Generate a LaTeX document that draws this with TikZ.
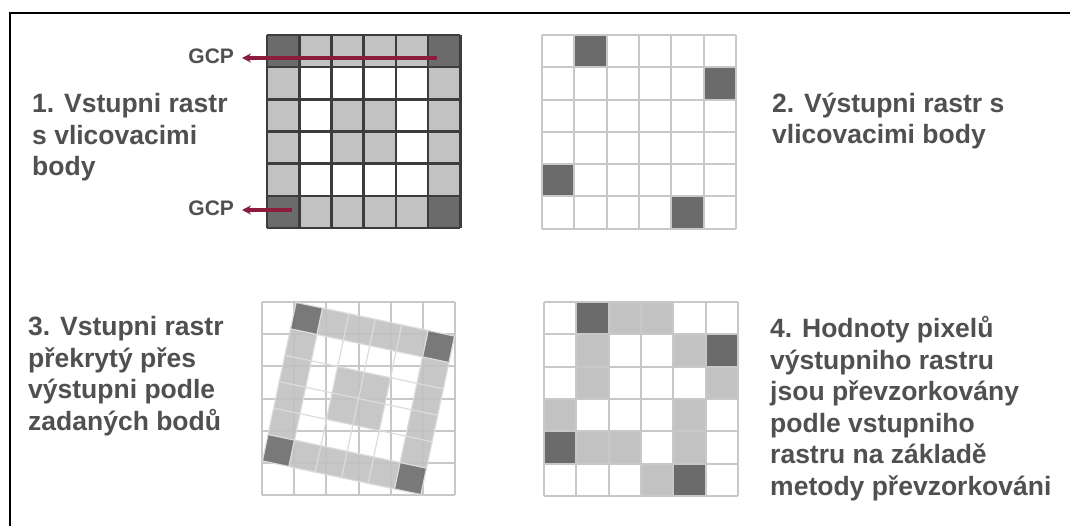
\documentclass[tikz,border=0pt]{standalone}
\usepackage{fontspec}
\setmainfont{Liberation Sans}
\usetikzlibrary{arrows.meta}
\definecolor{txt}{HTML}{505050}
\definecolor{lightc}{HTML}{C2C2C2}
\definecolor{darkc}{HTML}{6B6B6B}
\definecolor{gline}{HTML}{C8C8C8}
\definecolor{rline}{HTML}{DCDCDC}
\definecolor{dline}{HTML}{3C3C3C}
\definecolor{gcpred}{HTML}{8C1B3E}
\newcommand\rastcells[5]{%
  \edef\rastlist{#5}%
  \foreach \cc/\rr in \rastlist \fill[#4] ({#1+\cc*#3},{#2+\rr*#3}) rectangle ++(#3,#3);}
\newcommand\rastlines[4]{%
  \foreach \k in {0,...,6} {%
    \draw[#4] ({#1+\k*#3},#2) -- ++(0,{6*#3});
    \draw[#4] (#1,{#2+\k*#3}) -- ++({6*#3},0);}}
\begin{document}
\begin{tikzpicture}[x=1pt,y=-1pt,
  lbl/.style={anchor=base west, align=left, text=txt, inner sep=0,
    font=\bfseries\fontsize{26.5}{31.5}\selectfont},
  gcp/.style={anchor=east, text=txt, inner sep=0, outer xsep=8pt,
    font=\bfseries\fontsize{21}{24}\selectfont},
  gcparrow/.style={draw=gcpred, line width=3.6pt, -{Stealth[length=9pt,width=9pt]}},
  frame/.style={line width=2.6pt, black}]
\useasboundingbox (0,0) rectangle (1070,526);
\fill[white] (0,0) rectangle (1070,526);
% frame (top and left edges)
\draw[frame] (10,526) -- (10,13) -- (1070,13);

% ---------- panel 1: input raster
\def\inlight{1/0,2/0,3/0,4/0,0/1,5/1,0/2,2/2,3/2,5/2,0/3,2/3,3/3,5/3,0/4,5/4,1/5,2/5,3/5,4/5}
\def\indark{0/0,5/0,0/5,5/5}
\rastcells{267}{35}{32.2}{lightc}{\inlight}
\rastcells{267}{35}{32.2}{darkc}{\indark}
\rastlines{267}{35}{32.2}{dline, line width=2.6pt}

\node[gcp] (gcp1) at (242,56) {GCP};
\node[gcp] (gcp2) at (242,208) {GCP};
\coordinate (g1s) at (437,58);
\coordinate (g2s) at (292,210);
\draw[gcparrow] (g1s) -- (gcp1.east |- g1s);
\draw[gcparrow] (g2s) -- (gcp2.east |- g2s);

% multi-line labels: the base anchor is the baseline of the last line
\node[lbl] (t1) at (32,176) {1. Vstupni rastr\\s vlicovacimi\\body};

% ---------- panel 2: output raster
\rastcells{542}{35}{32.3}{darkc}{1/0,5/1,0/4,4/5}
\rastlines{542}{35}{32.3}{gline, line width=2pt}
\node[lbl] (t2) at (772,144) {2. Výstupni rastr s\\vlicovacimi body};

% ---------- panel 3: overlay
\rastlines{262}{302}{32.2}{gline, line width=2pt}
\begin{scope}[shift={(358.5,398.5)}, rotate=-12]
  \rastcells{-81}{-81}{27}{lightc, opacity=0.9}{\inlight}
  \rastcells{-81}{-81}{27}{darkc, opacity=0.9}{\indark}
  \rastlines{-81}{-81}{27}{rline, line width=1.2pt}
\end{scope}
\node[lbl] (t3) at (28,430) {3. Vstupni rastr\\překrytý přes\\výstupni podle\\zadaných bodů};

% ---------- panel 4: resampled output raster
\rastcells{544}{302}{32.3}{lightc}{2/0,3/0,1/1,4/1,1/2,5/2,0/3,4/3,1/4,2/4,4/4,3/5}
\rastcells{544}{302}{32.3}{darkc}{1/0,5/1,0/4,4/5}
\rastlines{544}{302}{32.3}{gline, line width=2pt}
\node[lbl] (t4) at (770,495) {4. Hodnoty pixelů\\výstupniho rastru\\jsou převzorkovány\\podle vstupniho\\rastru na základě\\metody převzorkováni};
\end{tikzpicture}
\end{document}
